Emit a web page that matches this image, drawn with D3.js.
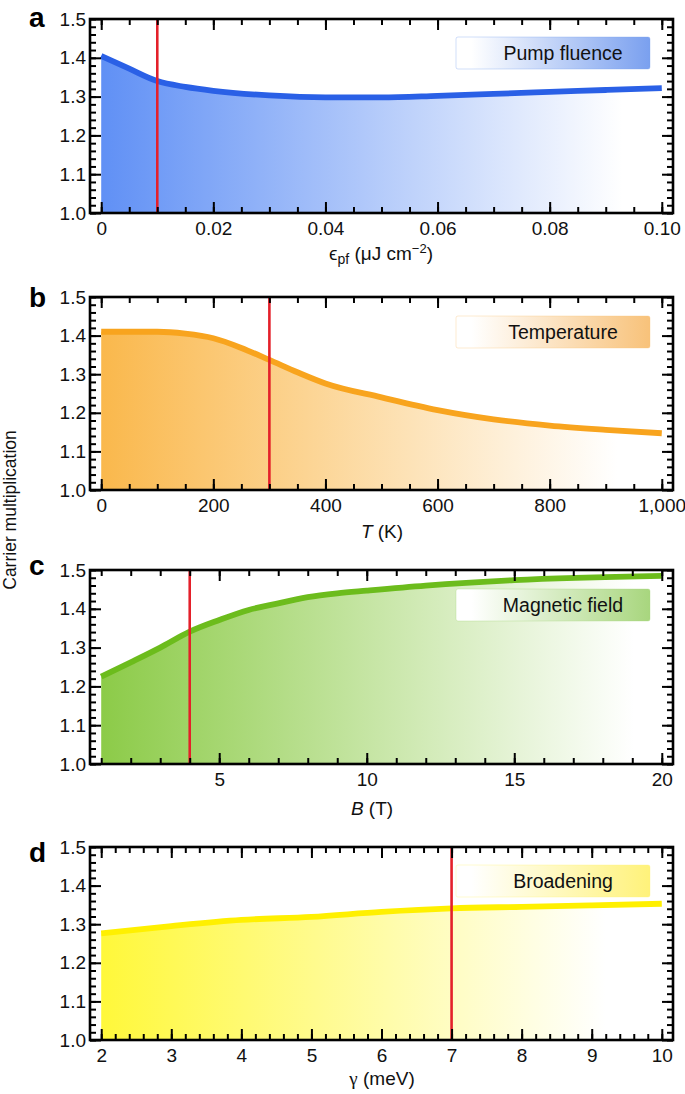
<!DOCTYPE html>
<html>
<head>
<meta charset="utf-8">
<script src="https://cdn.jsdelivr.net/npm/d3@7"></script>
<style>
  html, body { margin: 0; padding: 0; background: #fff; }
  svg { display: block; font-family: "Liberation Sans", Arial, Helvetica, sans-serif; }
</style>
</head>
<body>
<svg id="chart" width="685" height="1094"></svg>
<script>
// ---------- DATA ----------
const fluenceX = [0, 0.005, 0.01, 0.015, 0.02, 0.03, 0.04, 0.05, 0.06, 0.07, 0.08, 0.09, 0.10];
const fluenceY = [1.405, 1.372, 1.340, 1.325, 1.315, 1.303, 1.298, 1.298, 1.302, 1.307, 1.312, 1.317, 1.322];

const tempX = [0, 50, 100, 150, 200, 250, 300, 350, 400, 500, 600, 700, 800, 900, 1000];
const tempY = [1.410, 1.410, 1.410, 1.405, 1.393, 1.368, 1.337, 1.305, 1.276, 1.240, 1.207, 1.183, 1.167, 1.156, 1.147];

const fieldX = [1, 2, 3, 4, 5, 6, 7, 8, 9, 10, 12, 15, 20];
const fieldY = [1.225, 1.262, 1.300, 1.341, 1.371, 1.397, 1.414, 1.430, 1.440, 1.447, 1.460, 1.474, 1.485];

const broadX = [2, 3, 4, 5, 6, 7, 8, 9, 10];
const broadY = [1.276, 1.295, 1.311, 1.319, 1.332, 1.341, 1.345, 1.349, 1.353];

const yTicks = [1.0, 1.1, 1.2, 1.3, 1.4, 1.5];
const yTickLabels = ["1.0", "1.1", "1.2", "1.3", "1.4", "1.5"];

const fluenceTicks = [0, 0.02, 0.04, 0.06, 0.08, 0.10];
const fluenceTickLabels = ["0", "0.02", "0.04", "0.06", "0.08", "0.10"];
const tempTicks = [0, 200, 400, 600, 800, 1000];
const tempTickLabels = ["0", "200", "400", "600", "800", "1,000"];
const fieldTicks = [5, 10, 15, 20];
const fieldTickLabels = ["5", "10", "15", "20"];
const broadTicks = [2, 3, 4, 5, 6, 7, 8, 9, 10];
const broadTickLabels = ["2", "3", "4", "5", "6", "7", "8", "9", "10"];

const markers = [0.01, 300, 4, 7];
const panelLetters = ["a", "b", "c", "d"];
const legendLabels = ["Pump fluence", "Temperature", "Magnetic field", "Broadening"];

// ---------- LAYOUT / STYLE ----------
const left = 90, right = 673;
const tops = [19, 297, 570, 847];
const bottoms = [213, 490, 764, 1040];

const styles = [
  { line: "#2a60e6", fill: "#6090f5", leg: "#7aa0ef", fadeEnd: 0.93, minorStep: 0.005 },
  { line: "#f8a41e", fill: "#fab84c", leg: "#f8c27a", fadeEnd: 0.92, minorStep: 50 },
  { line: "#6cbc1c", fill: "#8ccb48", leg: "#a8d67e", fadeEnd: 0.95, minorStep: 1 },
  { line: "#fff000", fill: "#fff83a", leg: "#fff27a", fadeEnd: 0.90, minorStep: 0.2 }
];

const panels = [
  { xs: fluenceX, ys: fluenceY, ticks: fluenceTicks, labels: fluenceTickLabels },
  { xs: tempX, ys: tempY, ticks: tempTicks, labels: tempTickLabels },
  { xs: fieldX, ys: fieldY, ticks: fieldTicks, labels: fieldTickLabels },
  { xs: broadX, ys: broadY, ticks: broadTicks, labels: broadTickLabels }
];

const svg = d3.select("#chart");
const defs = svg.append("defs");

panels.forEach((p, i) => {
  const st = styles[i];
  const top = tops[i], bottom = bottoms[i];
  const x0 = d3.min(p.xs), x1 = d3.max(p.xs);
  const pad = 0.02 * (x1 - x0);
  const x = d3.scaleLinear().domain([x0 - pad, x1 + pad]).range([left, right]);
  const y = d3.scaleLinear().domain([1.0, 1.5]).range([bottom, top]);
  const data = p.xs.map((v, k) => ({ x: v, y: p.ys[k] }));

  // fill gradient
  const gid = "fillgrad" + i;
  const g1 = defs.append("linearGradient").attr("id", gid)
    .attr("gradientUnits", "userSpaceOnUse")
    .attr("x1", x(x0)).attr("x2", x(x1)).attr("y1", 0).attr("y2", 0);
  g1.append("stop").attr("offset", 0).attr("stop-color", st.fill);
  g1.append("stop").attr("offset", st.fadeEnd).attr("stop-color", "#ffffff");
  g1.append("stop").attr("offset", 1).attr("stop-color", "#ffffff");

  const lid = "leggrad" + i;
  const g2 = defs.append("linearGradient").attr("id", lid)
    .attr("x1", 0).attr("x2", 1).attr("y1", 0).attr("y2", 0);
  g2.append("stop").attr("offset", 0).attr("stop-color", "#ffffff");
  g2.append("stop").attr("offset", 0.08).attr("stop-color", "#ffffff");
  g2.append("stop").attr("offset", 1).attr("stop-color", st.leg);

  const g = svg.append("g");

  // area
  const area = d3.area().curve(d3.curveMonotoneX).x(d => x(d.x)).y0(y(1.0)).y1(d => y(d.y));
  g.append("path").datum(data).attr("d", area).attr("fill", `url(#${gid})`);

  // legend box
  const lx = 456, lw = 194, lh = 32;
  const lyTop = [37, 316, 589, 865][i];
  g.append("rect").attr("x", lx).attr("y", lyTop).attr("width", lw).attr("height", lh)
    .attr("rx", 2).attr("fill", `url(#${lid})`)
    .attr("stroke", st.leg).attr("stroke-opacity", 0.35).attr("stroke-width", 1);
  g.append("text").attr("x", 563).attr("y", lyTop + 23)
    .attr("text-anchor", "middle").attr("font-size", 19.5).attr("fill", "#111")
    .text(legendLabels[i]);

  // line
  const line = d3.line().curve(d3.curveMonotoneX).x(d => x(d.x)).y(d => y(d.y));
  g.append("path").datum(data).attr("d", line)
    .attr("fill", "none").attr("stroke", st.line).attr("stroke-width", 5.8)
    .attr("stroke-linejoin", "round");

  // marker
  g.append("line").attr("x1", x(markers[i])).attr("x2", x(markers[i]))
    .attr("y1", y(1.0)).attr("y2", y(1.5))
    .attr("stroke", "#e4202a").attr("stroke-width", 2.6);

  // minor ticks
  const minorX = d3.range(Math.round((x0) / st.minorStep), Math.round(x1 / st.minorStep) + 1)
    .map(k => +(k * st.minorStep).toFixed(6));
  const minorY = d3.range(50, 76).map(k => k / 50);

  const axes = g.append("g").attr("class", "axes");
  const styleAxis = sel => {
    sel.select(".domain").remove();
    sel.selectAll(".tick line").attr("stroke", "#000").attr("stroke-width", 2);
  };
  const styleText = s => s.selectAll("text").attr("font-size", 19).attr("fill", "#111")
      .attr("font-family", "'Liberation Sans', Arial, sans-serif");

  axes.append("g").attr("transform", `translate(0,${bottom})`)
    .call(d3.axisBottom(x).tickValues(minorX).tickSize(-6).tickFormat(""))
    .call(styleAxis);
  axes.append("g").attr("transform", `translate(0,${top})`)
    .call(d3.axisTop(x).tickValues(minorX).tickSize(-6).tickFormat(""))
    .call(styleAxis);
  axes.append("g").attr("transform", `translate(${left},0)`)
    .call(d3.axisLeft(y).tickValues(minorY).tickSize(-6).tickFormat(""))
    .call(styleAxis);
  axes.append("g").attr("transform", `translate(${right},0)`)
    .call(d3.axisRight(y).tickValues(minorY).tickSize(-6).tickFormat(""))
    .call(styleAxis);

  // major ticks
  axes.append("g").attr("transform", `translate(0,${bottom})`)
    .call(d3.axisBottom(x).tickValues(p.ticks).tickSize(-11).tickPadding(9)
      .tickFormat((d, k) => p.labels[k]))
    .call(styleAxis).call(styleText);
  axes.append("g").attr("transform", `translate(0,${top})`)
    .call(d3.axisTop(x).tickValues(p.ticks).tickSize(-11).tickFormat(""))
    .call(styleAxis);
  axes.append("g").attr("transform", `translate(${left},0)`)
    .call(d3.axisLeft(y).tickValues(yTicks).tickSize(-11).tickPadding(4)
      .tickFormat((d, k) => yTickLabels[k]))
    .call(styleAxis).call(styleText);
  axes.append("g").attr("transform", `translate(${right},0)`)
    .call(d3.axisRight(y).tickValues(yTicks).tickSize(-11).tickFormat(""))
    .call(styleAxis);

  // frame
  g.append("rect").attr("x", left).attr("y", top)
    .attr("width", right - left).attr("height", bottom - top)
    .attr("fill", "none").attr("stroke", "#000").attr("stroke-width", 2.6);

  // panel letter
  g.append("text").attr("x", 29).attr("y", [27, 307, 575, 862][i])
    .attr("font-size", 28).attr("font-weight", "bold").attr("fill", "#000")
    .text(panelLetters[i]);
});

// x-axis titles
const t1 = svg.append("text").attr("x", 381).attr("y", 260).attr("text-anchor", "middle")
  .attr("font-size", 19).attr("fill", "#111");
t1.append("tspan").text("\u03F5");
t1.append("tspan").attr("font-size", 14).attr("dy", 4).text("pf");
t1.append("tspan").attr("dy", -4).text(" (\u03BCJ cm");
t1.append("tspan").attr("font-size", 13).attr("dy", -7).text("\u22122");
t1.append("tspan").attr("dy", 7).text(")");

const t2 = svg.append("text").attr("x", 382).attr("y", 538).attr("text-anchor", "middle")
  .attr("font-size", 19).attr("fill", "#111");
t2.append("tspan").attr("font-style", "italic").text("T");
t2.append("tspan").text(" (K)");

const t3 = svg.append("text").attr("x", 372).attr("y", 815).attr("text-anchor", "middle")
  .attr("font-size", 19).attr("fill", "#111");
t3.append("tspan").attr("font-style", "italic").text("B");
t3.append("tspan").text(" (T)");

const t4 = svg.append("text").attr("x", 382).attr("y", 1085).attr("text-anchor", "middle")
  .attr("font-size", 19).attr("fill", "#111");
t4.append("tspan").attr("font-family", "'Liberation Serif', 'DejaVu Serif', serif").text("\u03B3");
t4.append("tspan").text(" (meV)");

// y-axis title
svg.append("text").attr("transform", "translate(16,510) rotate(-90)")
  .attr("text-anchor", "middle").attr("font-size", 17.5).attr("fill", "#111")
  .text("Carrier multiplication");
</script>
</body>
</html>
